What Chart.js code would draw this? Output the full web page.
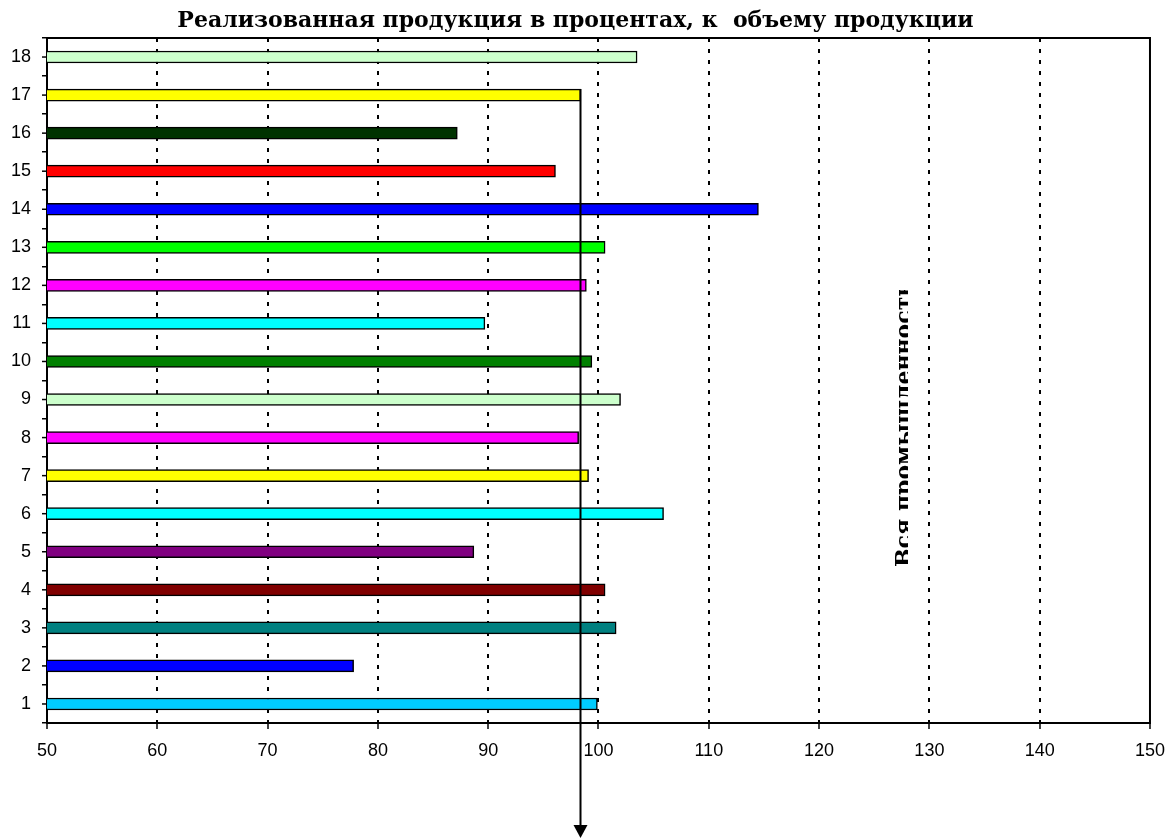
<!DOCTYPE html>
<html>
<head>
<meta charset="utf-8">
<script src="https://cdn.jsdelivr.net/npm/chart.js@4"></script>
<style>
html,body{margin:0;padding:0;background:#fff;}
#wrap{width:1176px;height:838px;position:relative;}
</style>
</head>
<body>
<div id="wrap"><canvas id="c" width="1176" height="838"></canvas></div>
<script>
const titleText = 'Реализованная продукция в процентах, к  объему продукции';
const categories = ['1','2','3','4','5','6','7','8','9','10','11','12','13','14','15','16','17','18'];
const values = [99.9, 77.8, 101.6, 100.6, 88.7, 105.9, 99.1, 98.2, 102.0, 99.4, 89.7, 98.9, 100.6, 114.5, 96.1, 87.2, 98.4, 103.5];
const barColors = ['#00CCFF','#0000FF','#008080','#800000','#800080','#00FFFF','#FFFF00','#FF00FF','#CCFFCC','#008000','#00FFFF','#FF00FF','#00FF00','#0000FF','#FF0000','#003300','#FFFF00','#CCFFCC'];
const xMin = 50, xMax = 150, xStep = 10;
const allIndustryValue = 98.3;
const allIndustryLabel = 'Вся промышленность';
const arrowFromCategory = '17';

const extras = {
  id: 'extras',
  afterDraw(chart) {
    const ctx = chart.ctx;
    const ca = chart.chartArea;
    const xs = chart.scales.x, ys = chart.scales.y;
    ctx.save();
    // frame top & right
    ctx.strokeStyle = '#000';
    ctx.lineWidth = 2;
    ctx.beginPath();
    ctx.moveTo(ca.left, ca.top); ctx.lineTo(ca.right, ca.top); ctx.lineTo(ca.right, ca.bottom);
    ctx.stroke();
    // center ticks on y axis
    ctx.lineWidth = 1.5;
    categories.forEach((c, i) => {
      const y = ys.getPixelForValue(i);
      ctx.beginPath(); ctx.moveTo(ca.left - 5, y); ctx.lineTo(ca.left, y); ctx.stroke();
    });
    // arrow
    const ax = Math.round(xs.getPixelForValue(allIndustryValue)) + 0.5;
    const ay = ys.getPixelForValue(categories.indexOf(arrowFromCategory)) - 6;
    ctx.lineWidth = 2;
    ctx.beginPath(); ctx.moveTo(ax, ay); ctx.lineTo(ax, 828); ctx.stroke();
    ctx.fillStyle = '#000';
    ctx.beginPath(); ctx.moveTo(ax - 7, 825); ctx.lineTo(ax + 7, 825); ctx.lineTo(ax, 838); ctx.closePath(); ctx.fill();
    // rotated label (clipped as in original)
    ctx.save();
    ctx.beginPath(); ctx.rect(0, 290, 908, 400); ctx.clip();
    ctx.translate(911, 567);
    ctx.rotate(-Math.PI / 2);
    ctx.font = 'bold 22px "DejaVu Serif"';
    ctx.textAlign = 'left';
    ctx.textBaseline = 'alphabetic';
    ctx.fillStyle = '#000';
    ctx.fillText(allIndustryLabel, 0, 0);
    ctx.restore();
    ctx.restore();
  }
};

new Chart(document.getElementById('c'), {
  type: 'bar',
  data: {
    labels: categories,
    datasets: [{
      data: values,
      backgroundColor: barColors,
      borderColor: '#000',
      borderWidth: 1.5,
      borderSkipped: false,
      barThickness: 12
    }]
  },
  options: {
    indexAxis: 'y',
    responsive: false,
    animation: false,
    layout: { padding: { left: 0, right: 25, top: 0, bottom: 0 } },
    plugins: {
      legend: { display: false },
      tooltip: { enabled: false },
      title: {
        display: true,
        text: titleText,
        color: '#000',
        font: { family: '"DejaVu Serif"', size: 22, weight: 'bold', lineHeight: 1.2 },
        padding: { top: 8, bottom: 3.6 }
      }
    },
    scales: {
      x: {
        type: 'linear',
        min: xMin, max: xMax,
        ticks: { stepSize: xStep, color: '#000', font: { family: '"Liberation Sans", Arial', size: 18 }, padding: 11, maxRotation: 0 },
        grid: {
          color: (c) => (c.tick && (c.tick.value === xMin || c.tick.value === xMax)) ? 'rgba(0,0,0,0)' : '#000',
          lineWidth: 2,
          tickColor: '#000',
          tickWidth: 1.5,
          tickLength: 6
        },
        border: { display: true, color: '#000', width: 2, dash: [4, 7] },
        afterFit(s) { s.height = 115; }
      },
      y: {
        reverse: true,
        ticks: { color: '#000', font: { family: '"Liberation Sans", Arial', size: 18 }, padding: 11 },
        grid: { drawOnChartArea: false, drawTicks: true, tickLength: 5, color: '#000', lineWidth: 1.5 },
        border: { display: true, color: '#000', width: 2 },
        afterFit(s) { s.width = 47; }
      }
    }
  },
  plugins: [extras]
});
</script>
</body>
</html>
